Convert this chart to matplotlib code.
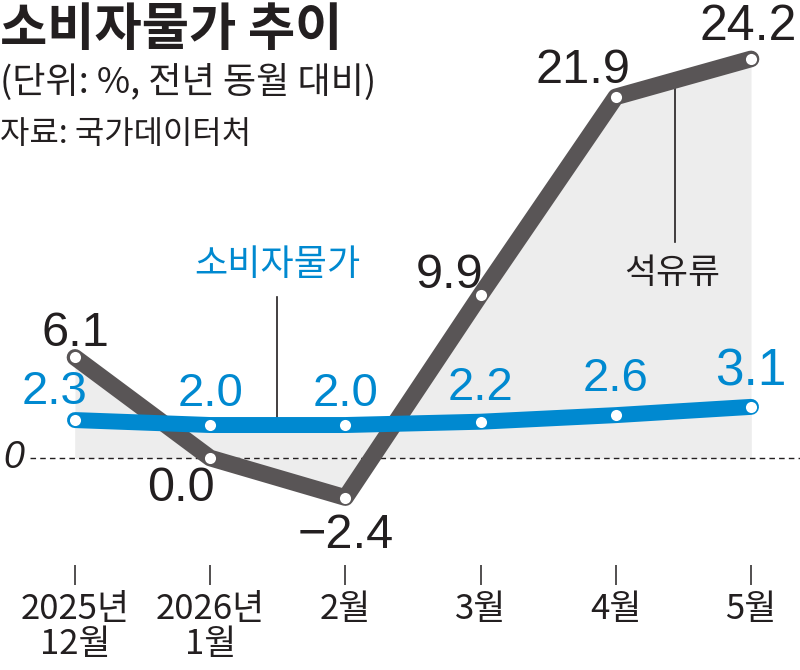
import matplotlib
matplotlib.use("Agg")
import matplotlib.pyplot as plt
import numpy as np

plt.rcParams['font.family'] = ['Noto Sans CJK KR', 'DejaVu Sans']

# data
months = ['2025년\n12월', '2026년\n1월', '2월', '3월', '4월', '5월']
oil = [6.1, 0.0, -2.4, 9.9, 21.9, 24.2]
cpi = [2.3, 2.0, 2.0, 2.2, 2.6, 3.1]

# label offsets (points) for value labels
oil_off = [(0, 17), (-21, -22), (0, -27), (-22, 14), (-24, 19), (-2, 23)]
cpi_off = [(-15, 20), (0, 22), (0, 22), (0, 24), (0, 26), (0, 25)]

DARK = '#231f20'
GRAY = '#595556'
BLUE = '#0089d0'
FILL = '#ededed'
NUM_FONT = ['Liberation Sans Narrow', 'Liberation Sans', 'DejaVu Sans']

fig = plt.figure(figsize=(8, 6.7), dpi=100)
ax = fig.add_axes([0, (670 - 565) / 670, 1, 565 / 670])

x = np.arange(len(months))
px_per_x = 135.2
px_per_y = 16.49
ax.set_xlim(-75 / px_per_x, 5 + 49 / px_per_x)
ax.set_ylim(-(565 - 458) / px_per_y, 458 / px_per_y)

# background fill
ax.fill_between(x, 0, oil, color=FILL, lw=0, zorder=1)
ax.fill_between(x, 0, cpi, color=FILL, lw=0, zorder=1)

# zero line
ax.plot([-45 / px_per_x, 5.4], [0, 0], ls=(0, (4, 3)), color=DARK, lw=1.0, zorder=2)
ax.text(-61 / px_per_x, 0, '0', fontsize=27, style='italic', color=DARK,
        ha='center', va='center', family=['Liberation Sans', 'DejaVu Sans'])

# lines
ax.plot(x, oil, color=GRAY, lw=12, solid_capstyle='round', solid_joinstyle='round', zorder=3)
ax.plot(x, oil, 'o', ms=8, mfc='white', mec='none', zorder=4)
ax.plot(x, cpi, color=BLUE, lw=11.5, solid_capstyle='round', solid_joinstyle='round', zorder=5)
ax.plot(x, cpi, 'o', ms=8, mfc='white', mec='none', zorder=6)

# value labels
for i, v in enumerate(oil):
    s = f'{v:.1f}'.replace('-', '\u2212')
    ax.annotate(s, (x[i], v), xytext=oil_off[i], textcoords='offset points',
                ha='center', va='center', fontsize=36 if i == len(oil) - 1 else 35,
                color=DARK, family=NUM_FONT)
for i, v in enumerate(cpi):
    ax.annotate(f'{v:.1f}', (x[i], v), xytext=cpi_off[i], textcoords='offset points',
                ha='center', va='center', fontsize=37 if i == len(cpi) - 1 else 34,
                color=BLUE, family=NUM_FONT)

# series labels with leader lines
ax.plot([1.494, 1.494], [9.76, 2.3], color=DARK, lw=1.2, zorder=2)
ax.text(1.494, 11.7, '소비자물가', fontsize=26, color=BLUE, ha='center', va='center')
ax.plot([4.44, 4.44], [22.9, 13.1], color=DARK, lw=1.2, zorder=2)
ax.text(4.42, 11.2, '석유류', fontsize=25, color=DARK, ha='center', va='center')

# axis
for sp in ax.spines.values():
    sp.set_visible(False)
ax.set_yticks([])
ax.set_xticks(x)
ax.set_xticklabels(months, fontsize=25, color=DARK, linespacing=1.0,
                   family=['Liberation Sans Narrow', 'Noto Sans CJK KR'])
ax.tick_params(axis='x', direction='out', length=14.4, width=1.1, color=DARK, pad=5)

# titles
fig.text(0.0, 1 - 30 / 670, '소비자물가 추이', fontsize=37, fontweight='bold',
         color=DARK, ha='left', va='center')
fig.text(0.0, 1 - 82 / 670, '(단위: %, 전년 동월 대비)', fontsize=26,
         color=DARK, ha='left', va='center')
fig.text(0.0, 1 - 134 / 670, '자료: 국가데이터처', fontsize=23,
         color=DARK, ha='left', va='center')

fig.savefig('out.png', dpi=100)
